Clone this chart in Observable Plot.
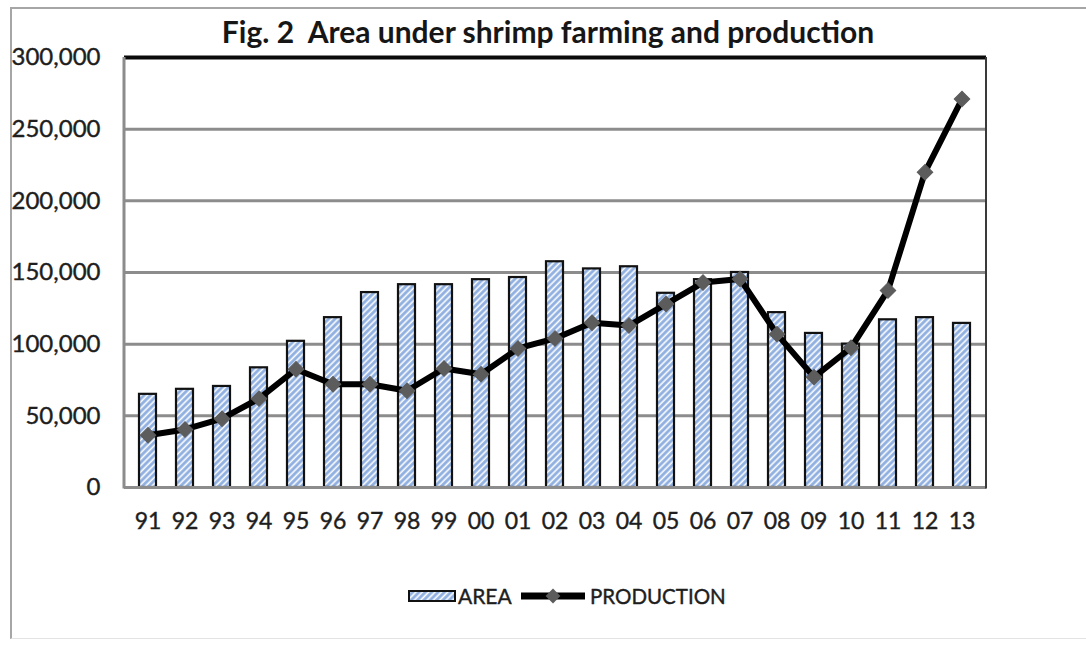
<!DOCTYPE html>
<html>
<head>
<meta charset="utf-8">
<script src="https://cdn.jsdelivr.net/npm/d3@7"></script>
<script src="https://cdn.jsdelivr.net/npm/@observablehq/plot@0.6"></script>
<style>
  html, body { margin: 0; padding: 0; background: #fff; }
  #wrap { position: relative; width: 1086px; height: 646px; overflow: hidden; font-family: Lato, "Open Sans", sans-serif; }
  #border { position: absolute; left: 10px; top: 7px; width: 1090px; height: 632px; border-top: 2px solid #a6a6a6; border-left: 2px solid #a6a6a6; border-bottom: 1px solid #e4e4e4; box-sizing: border-box; }
  #title { position: absolute; left: 0; width: 1096px; top: 13px; text-align: center; font-weight: bold; font-size: 30px; color: #161616; white-space: nowrap; }
  #legend { position: absolute; left: 0; top: 580px; }
  #chart { position: absolute; left: 0; top: 0; }
  svg text { stroke: #1e1e1e; stroke-width: 0.4px; }
</style>
</head>
<body>
<div id="wrap">
  <div id="border"></div>
  <div id="chart"></div>
  <div id="title">Fig. 2&nbsp; Area under shrimp farming and production</div>
  <div id="legend"></div>
</div>
<script>
const years = ["91","92","93","94","95","96","97","98","99","00","01","02","03","04","05","06","07","08","09","10","11","12","13"];
const area = [65000, 68500, 70500, 83500, 102000, 118500, 136000, 141500, 141500, 145000, 146500, 157500, 152500, 154000, 135500, 145000, 150000, 122000, 107500, 100000, 117000, 118500, 114500];
const production = [36500, 40500, 48000, 62000, 82500, 72000, 72000, 67500, 83000, 79000, 97000, 104000, 115000, 113000, 128000, 143000, 145500, 107000, 77000, 97500, 137500, 220000, 271000];
const yTicks = [0, 50000, 100000, 150000, 200000, 250000, 300000];
const seriesNames = ["AREA", "PRODUCTION"];

const data = years.map((y, i) => ({year: y, area: area[i], production: production[i]}));

const sideBorders = (index, scales, values, dims) => {
  const g = document.createElementNS("http://www.w3.org/2000/svg", "g");
  const x0 = dims.marginLeft, x1 = dims.width - dims.marginRight;
  const y0 = dims.marginTop, y1 = dims.height - dims.marginBottom;
  const mk = (xa, ya, xb, yb, stroke, w) => {
    const l = document.createElementNS("http://www.w3.org/2000/svg", "line");
    l.setAttribute("x1", xa); l.setAttribute("y1", ya);
    l.setAttribute("x2", xb); l.setAttribute("y2", yb);
    l.setAttribute("stroke", stroke); l.setAttribute("stroke-width", w);
    g.appendChild(l);
  };
  mk(x0, y0, x0, y1 + 1.5, "#8c8c8c", 3);
  mk(x1, y0, x1, y1 + 1.5, "#3a3a3a", 2);
  return g;
};

const chart = Plot.plot({
  width: 1086,
  height: 646,
  marginLeft: 124,
  marginRight: 100,
  marginTop: 57,
  marginBottom: 159,
  style: {fontFamily: "Lato, 'Open Sans', sans-serif", fontSize: "22px", color: "#1e1e1e", background: "transparent"},
  x: {type: "band", domain: years, paddingInner: 0.54, paddingOuter: 0.27, label: null},
  y: {domain: [0, 300000], ticks: yTicks, label: null},
  marks: [
    Plot.ruleY(yTicks.filter(d => d > 0 && d < 300000), {stroke: "#8c8c8c", strokeWidth: 3}),
    Plot.barY(data, {x: "year", y: "area", fill: "url(#hatch)", stroke: "#111", strokeWidth: 2.2}),
    Plot.ruleY([0], {stroke: "#8c8c8c", strokeWidth: 3}),
    Plot.ruleY([300000], {stroke: "#0a0a0a", strokeWidth: 4}),
    sideBorders,
    Plot.line(data, {x: "year", y: "production", stroke: "#000", strokeWidth: 6, strokeLinejoin: "round"}),
    Plot.dot(data, {x: "year", y: "production", symbol: "square", r: 6.2, rotate: 45, fill: "#5c5c5c", stroke: "#5c5c5c", strokeWidth: 1}),
    Plot.axisY({ticks: yTicks, tickSize: 0, tickPadding: 24, tickFormat: d3.format(","), fontSize: 24, label: null}),
    Plot.axisX({tickSize: 0, tickPadding: 25, fontSize: 23, label: null})
  ]
});

const ns = "http://www.w3.org/2000/svg";
const defs = document.createElementNS(ns, "defs");
defs.innerHTML = `<pattern id="hatch" patternUnits="userSpaceOnUse" width="4.5" height="4.5" patternTransform="rotate(45)">
  <rect width="4.5" height="4.5" fill="#8fafe0"></rect>
  <line x1="1.2" y1="0" x2="1.2" y2="4.5" stroke="#ffffff" stroke-width="1.6"></line>
</pattern>`;
chart.insertBefore(defs, chart.firstChild);
document.getElementById("chart").appendChild(chart);

// Legend
const leg = d3.select("#legend").append("svg").attr("width", 1086).attr("height", 40)
  .style("font-family", "Lato, 'Open Sans', sans-serif");
leg.append("rect").attr("x", 409).attr("y", 11).attr("width", 46).attr("height", 10)
  .attr("fill", "url(#hatch)").attr("stroke", "#111").attr("stroke-width", 2);
leg.append("text").attr("x", 458).attr("y", 24).attr("font-size", 21).attr("fill", "#1e1e1e").text(seriesNames[0]);
leg.append("line").attr("x1", 521).attr("x2", 585).attr("y1", 16).attr("y2", 16)
  .attr("stroke", "#000").attr("stroke-width", 7);
leg.append("path").attr("d", d3.symbol(d3.symbolSquare, 110)()).attr("transform", "translate(553,16) rotate(45)")
  .attr("fill", "#5c5c5c");
leg.append("text").attr("x", 590).attr("y", 24).attr("font-size", 20.5).attr("fill", "#1e1e1e").text(seriesNames[1]);
</script>
</body>
</html>
